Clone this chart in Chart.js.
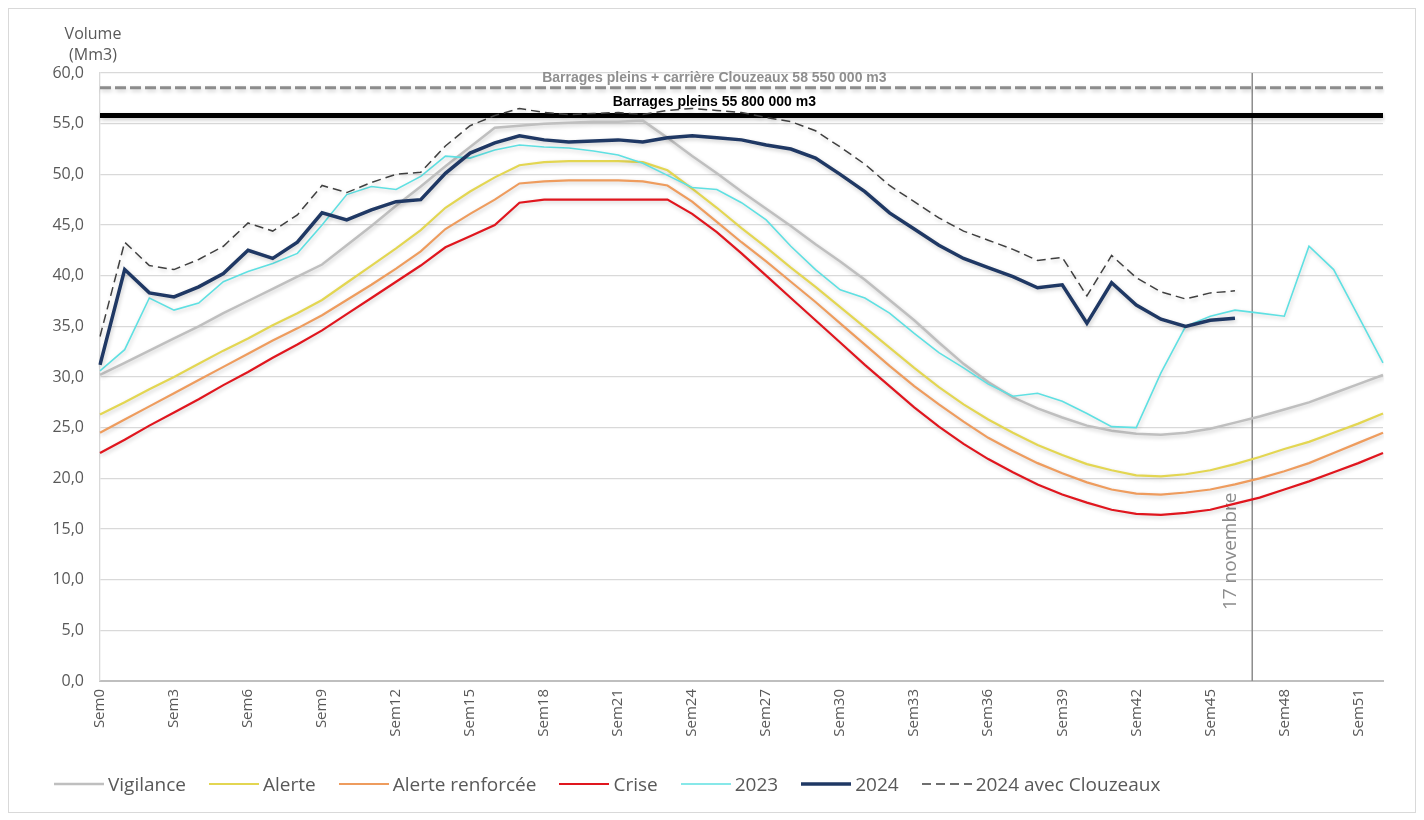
<!DOCTYPE html>
<html lang="fr">
<head>
<meta charset="utf-8">
<title>Volume des barrages</title>
<script src="https://cdn.jsdelivr.net/npm/chart.js@4.4.1/dist/chart.umd.min.js"></script>
<style>
  html, body { margin: 0; padding: 0; background: #fff; }
  #wrap { position: relative; width: 1424px; height: 820px; overflow: hidden; }
  #frame { position: absolute; left: 8px; top: 8px; width: 1406px; height: 803px; border: 1px solid #d9d9d9; pointer-events: none; }
  #chart { position: absolute; left: 0; top: 0; }
  #legend { position: absolute; left: 54px; top: 771px; display: flex; align-items: center;
            font-family: 'Open Sans', sans-serif; font-size: 19px; color: #595959; white-space: nowrap; }
  .item { display: flex; align-items: center; margin-right: 23px; }
  .item svg { margin-right: 4px; }
</style>
</head>
<body>
<div id="wrap">
  <canvas id="chart" width="1424" height="820"></canvas>
  <div id="frame"></div>
  <div id="legend"></div>
</div>
<script>
// Weeks of the year
const weeks = ["Sem0", "Sem1", "Sem2", "Sem3", "Sem4", "Sem5", "Sem6", "Sem7", "Sem8", "Sem9",
  "Sem10", "Sem11", "Sem12", "Sem13", "Sem14", "Sem15", "Sem16", "Sem17", "Sem18", "Sem19",
  "Sem20", "Sem21", "Sem22", "Sem23", "Sem24", "Sem25", "Sem26", "Sem27", "Sem28", "Sem29",
  "Sem30", "Sem31", "Sem32", "Sem33", "Sem34", "Sem35", "Sem36", "Sem37", "Sem38", "Sem39",
  "Sem40", "Sem41", "Sem42", "Sem43", "Sem44", "Sem45", "Sem46", "Sem47", "Sem48", "Sem49",
  "Sem50", "Sem51", "Sem52"];

// Threshold curves (Mm3)
const vigilance = [30.2, 31.4, 32.6, 33.8, 35.0, 36.3, 37.5, 38.7, 39.9, 41.1,
  43.0, 44.9, 46.9, 48.8, 50.8, 52.7, 54.6, 54.8, 55.0, 55.1,
  55.2, 55.2, 55.3, 53.6, 51.8, 50.1, 48.3, 46.6, 44.9, 43.1,
  41.4, 39.6, 37.6, 35.6, 33.4, 31.3, 29.5, 28.0, 26.9, 26.0,
  25.2, 24.7, 24.4, 24.3, 24.5, 24.9, 25.5, 26.1, 26.8, 27.5,
  28.4, 29.3, 30.2];
const alerte = [26.3, 27.5, 28.8, 30.0, 31.3, 32.6, 33.8, 35.1, 36.3, 37.6,
  39.3, 41.0, 42.7, 44.5, 46.7, 48.3, 49.7, 50.9, 51.2, 51.3,
  51.3, 51.3, 51.2, 50.4, 48.6, 46.7, 44.7, 42.8, 40.8, 38.9,
  36.9, 34.9, 32.9, 30.9, 29.0, 27.3, 25.8, 24.5, 23.3, 22.3,
  21.4, 20.8, 20.3, 20.2, 20.4, 20.8, 21.4, 22.1, 22.9, 23.6,
  24.5, 25.4, 26.4];
const alerteRenforcee = [24.5, 25.8, 27.1, 28.4, 29.7, 31.0, 32.3, 33.6, 34.8, 36.1,
  37.6, 39.1, 40.7, 42.4, 44.6, 46.1, 47.5, 49.1, 49.3, 49.4,
  49.4, 49.4, 49.3, 48.9, 47.3, 45.3, 43.3, 41.4, 39.4, 37.4,
  35.3, 33.2, 31.1, 29.1, 27.3, 25.6, 24.0, 22.7, 21.5, 20.5,
  19.6, 18.9, 18.5, 18.4, 18.6, 18.9, 19.4, 20.0, 20.7, 21.5,
  22.5, 23.5, 24.5];
const crise = [22.5, 23.8, 25.2, 26.5, 27.8, 29.2, 30.5, 31.9, 33.2, 34.6,
  36.2, 37.8, 39.4, 41.0, 42.8, 43.9, 45.0, 47.2, 47.5, 47.5,
  47.5, 47.5, 47.5, 47.5, 46.1, 44.3, 42.2, 40.0, 37.8, 35.6,
  33.4, 31.2, 29.1, 27.0, 25.1, 23.4, 21.9, 20.6, 19.4, 18.4,
  17.6, 16.9, 16.5, 16.4, 16.6, 16.9, 17.5, 18.1, 18.9, 19.7,
  20.6, 21.5, 22.5];

// Observed volumes (Mm3)
const year2023 = [30.6, 32.7, 37.8, 36.6, 37.3, 39.4, 40.4, 41.2, 42.2, 45.0,
  48.0, 48.8, 48.5, 49.8, 51.8, 51.6, 52.4, 52.9, 52.7, 52.6,
  52.3, 51.9, 51.1, 49.9, 48.7, 48.5, 47.2, 45.5, 42.9, 40.6,
  38.6, 37.8, 36.3, 34.3, 32.4, 30.9, 29.3, 28.1, 28.4, 27.6,
  26.4, 25.1, 25.0, 30.4, 35.0, 36.0, 36.6, 36.3, 36.0, 42.9,
  40.6, 36.0, 31.4];
const year2024 = [31.2, 40.6, 38.3, 37.9, 38.9, 40.2, 42.5, 41.7, 43.3, 46.2,
  45.5, 46.5, 47.3, 47.5, 50.1, 52.1, 53.1, 53.8, 53.4, 53.2,
  53.3, 53.4, 53.2, 53.6, 53.8, 53.6, 53.4, 52.9, 52.5, 51.6,
  50.0, 48.3, 46.2, 44.6, 43.0, 41.7, 40.8, 39.9, 38.8, 39.1,
  35.3, 39.3, 37.1, 35.7, 35.0, 35.6, 35.8];
const year2024Clouzeaux = [34.0, 43.3, 41.0, 40.6, 41.6, 42.9, 45.2, 44.4, 46.0, 48.9,
  48.2, 49.2, 50.0, 50.2, 52.8, 54.8, 55.8, 56.5, 56.1, 55.9,
  56.0, 56.1, 55.9, 56.3, 56.5, 56.3, 56.1, 55.6, 55.2, 54.3,
  52.7, 51.0, 48.9, 47.3, 45.7, 44.4, 43.5, 42.6, 41.5, 41.8,
  38.0, 42.0, 39.8, 38.4, 37.7, 38.3, 38.5];

// Reference levels
const fullDams = 55.8;
const fullDamsClouzeaux = 58.55;
const novemberWeek = 46.7;

const series = [
  { label: "Vigilance", data: vigilance, color: "#bfbfbf", width: 2.5, order: 6 },
  { label: "Alerte", data: alerte, color: "#e3d652", width: 2.2, order: 5 },
  { label: "Alerte renforcée", data: alerteRenforcee, color: "#ee9c5e", width: 2.2, order: 4 },
  { label: "Crise", data: crise, color: "#e0161e", width: 2.2, order: 3 },
  { label: "2023", data: year2023, color: "#5fe0e2", width: 1.6, order: 2 },
  { label: "2024", data: year2024, color: "#1f3864", width: 3.5, order: 1 },
  { label: "2024 avec Clouzeaux", data: year2024Clouzeaux, color: "#404040", width: 1.5, dash: [9, 5], order: 0 }
];

const datasets = series.map(s => ({
  label: s.label,
  data: s.data,
  borderColor: s.color,
  backgroundColor: s.color,
  borderWidth: s.width,
  borderDash: s.dash || [],
  pointRadius: 0,
  tension: 0,
  fill: false,
  order: s.order
}));

datasets.push({
  label: "Barrages pleins",
  data: [{ x: weeks[0], y: fullDams }, { x: weeks[weeks.length - 1], y: fullDams }],
  borderColor: "#000000",
  borderWidth: 5,
  pointRadius: 0,
  order: 7
});
datasets.push({
  label: "Barrages pleins + carrière Clouzeaux",
  data: [{ x: weeks[0], y: fullDamsClouzeaux }, { x: weeks[weeks.length - 1], y: fullDamsClouzeaux }],
  borderColor: "#8c8c8c",
  borderWidth: 3,
  borderDash: [11, 4],
  pointRadius: 0,
  order: 8
});

// soft shadow like the spreadsheet export
const glow = {
  id: "glow",
  beforeDatasetDraw(chart) {
    const ctx = chart.ctx;
    ctx.save();
    ctx.shadowColor = "rgba(0,0,0,0.2)";
    ctx.shadowBlur = 4;
    ctx.shadowOffsetX = 1;
    ctx.shadowOffsetY = 2;
  },
  afterDatasetDraw(chart) {
    chart.ctx.restore();
  }
};

const annotations = {
  id: "annotations",
  beforeDatasetsDraw(chart) {
    const { ctx, chartArea, scales: { x, y } } = chart;
    const px = x.getPixelForValue(novemberWeek);
    ctx.save();
    ctx.strokeStyle = "#8c8c8c";
    ctx.lineWidth = 1.5;
    ctx.beginPath();
    ctx.moveTo(px, chartArea.top);
    ctx.lineTo(px, chartArea.bottom);
    ctx.stroke();
    ctx.translate(px - 22, y.getPixelForValue(12.8));
    ctx.rotate(-Math.PI / 2);
    ctx.font = "19px 'Open Sans'";
    ctx.fillStyle = "#8c8c8c";
    ctx.textAlign = "center";
    ctx.textBaseline = "middle";
    ctx.fillText("17 novembre", 0, 0);
    ctx.restore();
  },
  afterDatasetsDraw(chart) {
    const { ctx, scales: { x, y } } = chart;
    const cx = x.getPixelForValue(24.9);
    ctx.save();
    ctx.textAlign = "center";
    ctx.textBaseline = "middle";
    ctx.font = "bold 14px 'Liberation Sans', Arial, sans-serif";
    ctx.fillStyle = "#8f8f8f";
    ctx.fillText("Barrages pleins + carrière Clouzeaux 58 550 000 m3", cx, y.getPixelForValue(fullDamsClouzeaux) - 10);
    ctx.fillStyle = "#000000";
    ctx.fillText("Barrages pleins 55 800 000 m3", cx, y.getPixelForValue(fullDams) - 13);
    ctx.restore();
  },
  afterDraw(chart) {
    const ctx = chart.ctx;
    ctx.save();
    ctx.font = "16px 'Open Sans'";
    ctx.fillStyle = "#595959";
    ctx.textAlign = "center";
    ctx.textBaseline = "middle";
    ctx.fillText("Volume", 93, 34);
    ctx.fillText("(Mm3)", 93, 55);
    ctx.restore();
  }
};

Chart.defaults.font.family = "'Open Sans', sans-serif";
Chart.defaults.color = "#595959";

const chart = new Chart(document.getElementById("chart"), {
  type: "line",
  data: { labels: weeks, datasets: datasets },
  options: {
    responsive: false,
    animation: false,
    layout: { padding: { left: 0, right: 41, top: 73, bottom: 0 } },
    plugins: {
      legend: { display: false },
      tooltip: { enabled: false }
    },
    scales: {
      x: {
        grid: { display: false, drawTicks: false },
        border: { display: true, color: "#bfbfbf", width: 2 },
        ticks: {
          autoSkip: false,
          maxRotation: 90,
          minRotation: 90,
          padding: 8,
          font: { size: 15 },
          color: "#595959",
          callback: function (value, index) {
            return index % 3 === 0 ? this.getLabelForValue(value) : null;
          }
        },
        afterFit: scale => { scale.height = 139; }
      },
      y: {
        min: 0,
        max: 60,
        grid: { color: "#d9d9d9", lineWidth: 1.3, drawTicks: false },
        border: { display: true, color: "#d9d9d9", width: 1.3 },
        ticks: {
          stepSize: 5,
          padding: 16,
          font: { size: 16 },
          color: "#595959",
          callback: v => v.toFixed(1).replace(".", ",")
        },
        afterFit: scale => { scale.width = 100; }
      }
    }
  },
  plugins: [glow, annotations]
});

// HTML legend built from the series list
const legend = document.getElementById("legend");
series.forEach(s => {
  const item = document.createElement("div");
  item.className = "item";
  const dash = s.dash ? ` stroke-dasharray="${s.dash.join(" ")}"` : "";
  item.innerHTML = `<svg width="50" height="10"><line x1="0" y1="5" x2="50" y2="5" stroke="${s.color}" stroke-width="${s.width}"${dash}/></svg><span>${s.label}</span>`;
  legend.appendChild(item);
});
</script>
</body>
</html>
